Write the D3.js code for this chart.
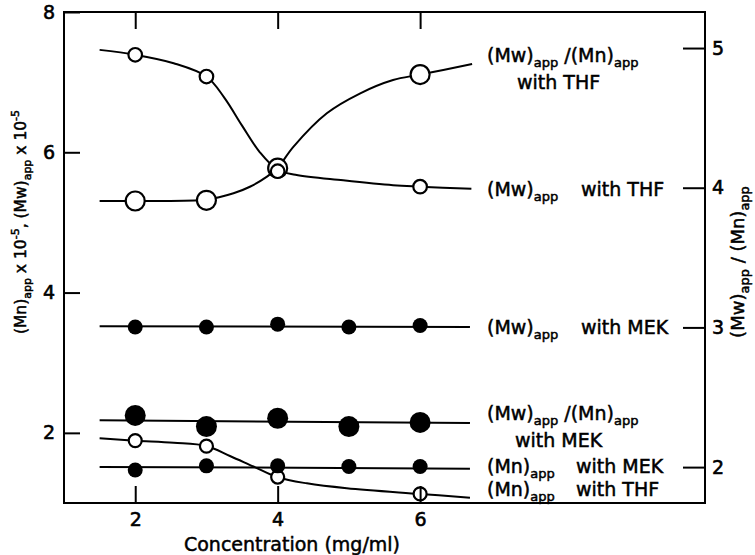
<!DOCTYPE html>
<html>
<head>
<meta charset="utf-8">
<script src="https://cdn.jsdelivr.net/npm/d3@7"></script>
<style>
  body { margin: 0; background: #fff; }
  text { font-family: "DejaVu Sans", sans-serif; fill: #000; }
</style>
</head>
<body>
<div id="chart"></div>
<script>
/// DATA ///
const concTHF = [2, 3, 4, 6];
const concMEK = [2, 3, 4, 5, 6];

// left axis: x 10^-5
const mwTHF = [7.39, 7.08, 5.73, 5.51];
const mnTHF = [1.89, 1.81, 1.37, 1.13];
const mwMEK = [3.51, 3.51, 3.55, 3.51, 3.53];
const mnMEK = [1.47, 1.53, 1.53, 1.52, 1.52];
// right axis: Mw/Mn
const ratioTHF = [3.905, 3.91, 4.14, 4.81];
const ratioMEK = [2.37, 2.29, 2.35, 2.29, 2.32];

// hand drawn curves through the points: [concentration, value]
const fitMwTHF = [[1.5, 7.46], [2, 7.39], [2.54, 7.27], [3, 7.08], [3.25, 6.78], [3.5, 6.38],
  [3.75, 6.0], [4, 5.75], [4.25, 5.68], [4.92, 5.6], [5.62, 5.53], [6, 5.51], [6.72, 5.48]];
const fitRatioTHF = [[1.5, 3.905], [2, 3.905], [3, 3.915], [3.38, 3.96], [3.61, 4.007], [3.85, 4.079],
  [4, 4.143], [4.22, 4.293], [4.69, 4.533], [5.16, 4.676], [5.62, 4.771], [6, 4.81], [6.73, 4.885]];
const fitMnTHF = [[1.5, 1.923], [2, 1.889], [2.54, 1.86], [3, 1.813], [3.33, 1.67], [3.66, 1.52],
  [4, 1.367], [4.41, 1.28], [4.97, 1.21], [6, 1.129], [6.7, 1.076]];
const fitMwMEK = [[1.5, 3.52], [6.7, 3.51]];
const fitMnMEK = [[1.5, 1.515], [6.7, 1.49]];
const fitRatioMEK = [[1.5, 2.335], [6.7, 2.315]];

const xTicks = [2, 4, 6];
const yLeftTicks = [2, 4, 6, 8];
const yRightTicks = [2, 3, 4, 5];

const xTitle = "Concentration (mg/ml)";
const yLeftTitle = [["(Mn)"], ["app", "sub"], [" x 10"], ["-5", "sup"], [", (Mw)"], ["app", "sub"], [" x 10"], ["-5", "sup"]];
const yRightTitle = [["(Mw)"], ["app", "sub"], [" / (Mn)"], ["app", "sub"]];
const nameRatio = [["(Mw)"], ["app", "sub"], [" /(Mn)"], ["app", "sub"]];
const nameMw = [["(Mw)"], ["app", "sub"]];
const nameMn = [["(Mn)"], ["app", "sub"]];

/// LAYOUT ///
const width = 755;
const height = 555;
const frame = { left: 64, right: 705, top: 12, bottom: 503 };

const svg = d3
  .select("#chart")
  .append("svg")
  .attr("width", width)
  .attr("height", height);

const x = d3.scaleLinear().domain([1, 10]).range([frame.left, frame.right]);
const yLeft = d3.scaleLinear().domain([1, 8]).range([frame.bottom, frame.top]);
const yRight = d3.scaleLinear().domain([1.743, 5.258]).range([frame.bottom, frame.top]);

// writes text made of normal / sub / sup pieces
function richText(sel, parts, small, subShift = 5) {
  let shift = 0;
  parts.forEach(([str, kind]) => {
    const target = kind === "sub" ? subShift : kind === "sup" ? -7 : 0;
    sel
      .append("tspan")
      .attr("dy", target - shift)
      .attr("font-size", kind ? small : null)
      .text(str);
    shift = target;
  });
  return sel;
}

/// CURVES ///
const line = (yScale) =>
  d3
    .line()
    .x((d) => x(d[0]))
    .y((d) => yScale(d[1]))
    .curve(d3.curveCatmullRom.alpha(0.5));

const curves = [
  [fitMwTHF, yLeft],
  [fitRatioTHF, yRight],
  [fitMnTHF, yLeft],
  [fitMwMEK, yLeft],
  [fitMnMEK, yLeft],
  [fitRatioMEK, yRight],
];
curves.forEach(([pts, yScale]) => {
  svg
    .append("path")
    .datum(pts)
    .attr("d", line(yScale))
    .attr("fill", "none")
    .attr("stroke", "#000")
    .attr("stroke-width", 2);
});

/// POINTS ///
function dots(xs, ys, yScale, r, filled) {
  svg
    .append("g")
    .selectAll("circle")
    .data(xs.map((c, i) => [c, ys[i]]))
    .enter()
    .append("circle")
    .attr("cx", (d) => x(d[0]))
    .attr("cy", (d) => yScale(d[1]))
    .attr("r", r)
    .attr("fill", filled ? "#000" : "#fff")
    .attr("stroke", "#000")
    .attr("stroke-width", filled ? 0 : 2.2);
}

dots(concTHF, ratioTHF, yRight, 9.5, false);
dots(concTHF, mwTHF, yLeft, 6.8, false);
dots(concTHF, mnTHF, yLeft, 6.5, false);
dots(concMEK, mwMEK, yLeft, 7.5, true);
dots(concMEK, mnMEK, yLeft, 7.5, true);
dots(concMEK, ratioMEK, yRight, 10.5, true);

/// AXES ///
function styleAxis(g) {
  g.select(".domain").remove();
  g.selectAll(".tick line").attr("stroke", "#000").attr("stroke-width", 2);
  g.selectAll(".tick text")
    .attr("font-size", 19)
    .attr("font-family", "DejaVu Sans, sans-serif")
    .attr("stroke", "#000")
    .attr("stroke-width", 0.6);
}

const intFormat = d3.format("d");

svg
  .append("g")
  .attr("transform", `translate(0,${frame.bottom})`)
  .call(d3.axisBottom(x).tickValues(xTicks).tickFormat(intFormat).tickSizeInner(-17).tickSizeOuter(0).tickPadding(10))
  .call(styleAxis);

svg
  .append("g")
  .attr("transform", `translate(0,${frame.top})`)
  .call(d3.axisTop(x).tickValues(xTicks).tickSizeInner(-17).tickSizeOuter(0).tickFormat(""))
  .call(styleAxis);

svg
  .append("g")
  .attr("transform", `translate(${frame.left},0)`)
  .call(d3.axisLeft(yLeft).tickValues(yLeftTicks).tickFormat(intFormat).tickSizeInner(-16).tickSizeOuter(0).tickPadding(9))
  .call(styleAxis);

svg
  .append("g")
  .attr("transform", `translate(${frame.right},0)`)
  .call(d3.axisRight(yRight).tickValues(yRightTicks).tickFormat(intFormat).tickSizeInner(-22).tickSizeOuter(0).tickPadding(7))
  .call(styleAxis);

svg
  .append("rect")
  .attr("x", frame.left)
  .attr("y", frame.top)
  .attr("width", frame.right - frame.left)
  .attr("height", frame.bottom - frame.top)
  .attr("fill", "none")
  .attr("stroke", "#000")
  .attr("stroke-width", 2);

/// TEXT ///
const textG = svg.append("g").attr("font-size", 19).attr("stroke", "#000").attr("stroke-width", 0.5);

function label(px, py, parts) {
  return richText(textG.append("text").attr("x", px).attr("y", py), parts, 13);
}

// series names
label(487, 62, nameRatio);
label(517, 89, [["with THF"]]);
label(487, 196, nameMw);
label(581, 196, [["with THF"]]);
label(487, 334, nameMw);
label(581, 334, [["with MEK"]]);
label(487, 420, nameRatio);
label(515, 447, [["with MEK"]]);
label(487, 473, nameMn);
label(576, 473, [["with MEK"]]);
label(487, 496, nameMn);
label(576, 496, [["with THF"]]);

// axis titles
textG
  .append("text")
  .attr("x", 292)
  .attr("y", 551)
  .attr("text-anchor", "middle")
  .text(xTitle);

richText(
  textG
    .append("text")
    .attr("transform", "translate(26,222) rotate(-90)")
    .attr("text-anchor", "middle")
    .attr("font-size", 15.5),
  yLeftTitle,
  11
);

richText(
  textG
    .append("text")
    .attr("transform", "translate(744,262) rotate(-90)")
    .attr("text-anchor", "middle")
    .attr("font-size", 18),
  yRightTitle,
  13
);
</script>
</body>
</html>
